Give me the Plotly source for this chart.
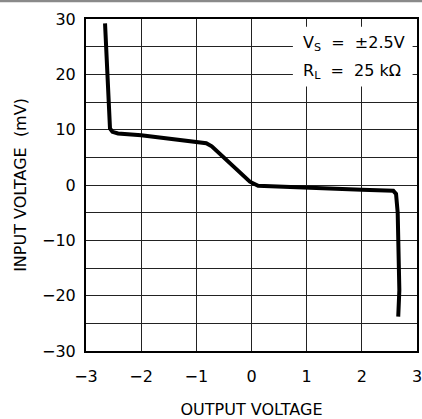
import plotly.graph_objects as go

# Data
output_voltage = [-2.655, -2.61, -2.565, -2.52, -2.42, -2.0, -1.0, -0.82, -0.72,
                  -0.03, 0.12, 1.0, 2.0, 2.57, 2.62, 2.65, 2.68, 2.68, 2.66]
input_voltage_mv = [29.2, 20.0, 10.2, 9.6, 9.3, 9.0, 7.85, 7.55, 7.0,
                    0.6, -0.15, -0.55, -0.87, -1.05, -1.6, -5.0, -14.0, -19.0, -23.8]

x_ticks = [-3, -2, -1, 0, 1, 2, 3]
y_ticks = [-30, -20, -10, 0, 10, 20, 30]
note_lines = ["V<sub>S</sub>\u00a0\u00a0=\u00a0\u00a0±2.5V", "R<sub>L</sub>\u00a0\u00a0=\u00a0\u00a025\u00a0kΩ"]
note_y = [25.5, 20.6]

FONT = "DejaVu Sans"

fig = go.Figure()
fig.add_trace(go.Scatter(x=output_voltage, y=input_voltage_mv, mode="lines",
                         line=dict(color="black", width=4), showlegend=False,
                         hoverinfo="skip"))

fig.update_layout(
    width=422, height=419,
    margin=dict(l=86, r=5, t=19, b=68),
    paper_bgcolor="white", plot_bgcolor="white",
    font=dict(family=FONT, size=16, color="black"),
)
fig.update_xaxes(range=[-3, 3], tickvals=x_ticks, showgrid=True, gridcolor="#222",
                 gridwidth=1.3, zeroline=False, showline=True, linecolor="black",
                 linewidth=2, mirror=True, ticks="outside", ticklen=10,
                 tickcolor="rgba(0,0,0,0)", tickfont=dict(size=16),
                 ticklabeloverflow="allow", automargin=False,
                 title=dict(text="OUTPUT VOLTAGE", font=dict(size=16), standoff=21))
fig.update_yaxes(range=[-30, 30], tickvals=y_ticks, showgrid=True, gridcolor="#222",
                 gridwidth=1.3, zeroline=False, showline=True, linecolor="black",
                 linewidth=2, mirror=True, ticks="outside", ticklen=5,
                 tickcolor="rgba(0,0,0,0)", tickfont=dict(size=16), automargin=False,
                 minor=dict(tickvals=[-25, -15, -5, 5, 15, 25], showgrid=True,
                            gridcolor="#222", gridwidth=1.3),
                 title=dict(text="INPUT VOLTAGE\u00a0\u00a0(mV)", font=dict(size=16), standoff=11))

# white box behind the condition note
fig.add_shape(type="rect", xref="x", yref="y", x0=0.75, x1=2.92, y0=17.8, y1=28.6,
              fillcolor="white", line=dict(width=0), layer="above")
for txt, yy in zip(note_lines, note_y):
    fig.add_annotation(x=0.895, y=yy, xref="x", yref="y", text=txt, showarrow=False,
                       xanchor="left", yanchor="middle", font=dict(size=16, family=FONT))

# thin gray rule across the top of the page
fig.add_shape(type="rect", xref="paper", yref="paper", x0=-0.3, x1=1.1,
              y0=1.0505, y1=1.06, fillcolor="#8a8a8a", line=dict(width=0), layer="above")

fig.write_html("out.html", config={"displayModeBar": False},
               post_script="document.body.style.margin='0px';")
